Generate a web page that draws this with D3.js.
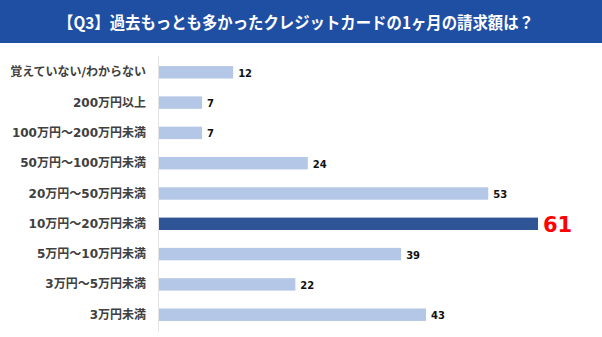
<!DOCTYPE html>
<html>
<head>
<meta charset="utf-8">
<script src="https://cdn.jsdelivr.net/npm/d3@7/dist/d3.min.js"></script>
<style>
  html, body { margin: 0; padding: 0; background: #fff; }
  svg { display: block; }
</style>
</head>
<body>
<svg id="chart" width="602" height="337"></svg>
<script>
// Survey answers, top to bottom
const categories = [
  "覚えていない/わからない",
  "200万円以上",
  "100万円～200万円未満",
  "50万円～100万円未満",
  "20万円～50万円未満",
  "10万円～20万円未満",
  "5万円～10万円未満",
  "3万円～5万円未満",
  "3万円未満"
];
const values = [12, 7, 7, 24, 53, 61, 39, 22, 43];
const highlight = "10万円～20万円未満";
const title = "【Q3】過去もっとも多かったクレジットカードの1ヶ月の請求額は？";

const W = 602, H = 337;
const svg = d3.select("#chart");
const jpFont = "'Noto Sans CJK JP', 'Noto Sans', sans-serif";
const mixFont = "'DejaVu Sans', 'Noto Sans CJK JP', sans-serif";

// Header band
svg.append("rect").attr("x", 0).attr("y", 0).attr("width", W).attr("height", 43)
  .attr("fill", "#1f4fa3");
svg.append("text").attr("x", 58).attr("y", 22).attr("text-anchor", "start")
  .attr("dominant-baseline", "central")
  .attr("fill", "#fff").attr("font-family", jpFont).attr("font-weight", 700)
  .attr("font-size", 16.5)
  .attr("textLength", 476).attr("lengthAdjust", "spacingAndGlyphs")
  .text(title);

const x0 = 158.5;
const x = d3.scaleLinear().domain([0, 61]).range([x0, 538]);
const y = d3.scaleBand().domain(categories).range([57, 330]).paddingInner(0.59).paddingOuter(0.3);

// Vertical baseline
svg.append("line").attr("x1", x0).attr("x2", x0).attr("y1", 56).attr("y2", 332)
  .attr("stroke", "#e4e4e4").attr("stroke-width", 1);

const rows = categories.map((c, i) => ({ c, v: values[i] }));

svg.append("g").selectAll("rect").data(rows).join("rect")
  .attr("x", x0 + 0.5)
  .attr("y", d => y(d.c))
  .attr("width", d => x(d.v) - x0 - 0.5)
  .attr("height", y.bandwidth())
  .attr("fill", d => d.c === highlight ? "#2f5597" : "#b4c7e7");

// Category labels
svg.append("g").selectAll("text").data(rows).join("text")
  .attr("x", 146)
  .attr("y", d => y(d.c) + y.bandwidth() / 2)
  .attr("text-anchor", "end").attr("dominant-baseline", "central")
  .attr("font-family", mixFont).attr("font-weight", 700).attr("font-size", 12)
  .attr("fill", "#404040")
  .text(d => d.c);

// Value labels
svg.append("g").selectAll("text").data(rows).join("text")
  .attr("x", d => x(d.v) + 5)
  .attr("y", d => y(d.c) + y.bandwidth() / 2 + 1)
  .attr("dominant-baseline", "central")
  .attr("font-family", "'DejaVu Sans', sans-serif").attr("font-weight", 700)
  .attr("font-size", d => d.c === highlight ? 21 : 10)
  .attr("fill", d => d.c === highlight ? "#ff0000" : "#111")
  .text(d => d.v);
</script>
</body>
</html>
